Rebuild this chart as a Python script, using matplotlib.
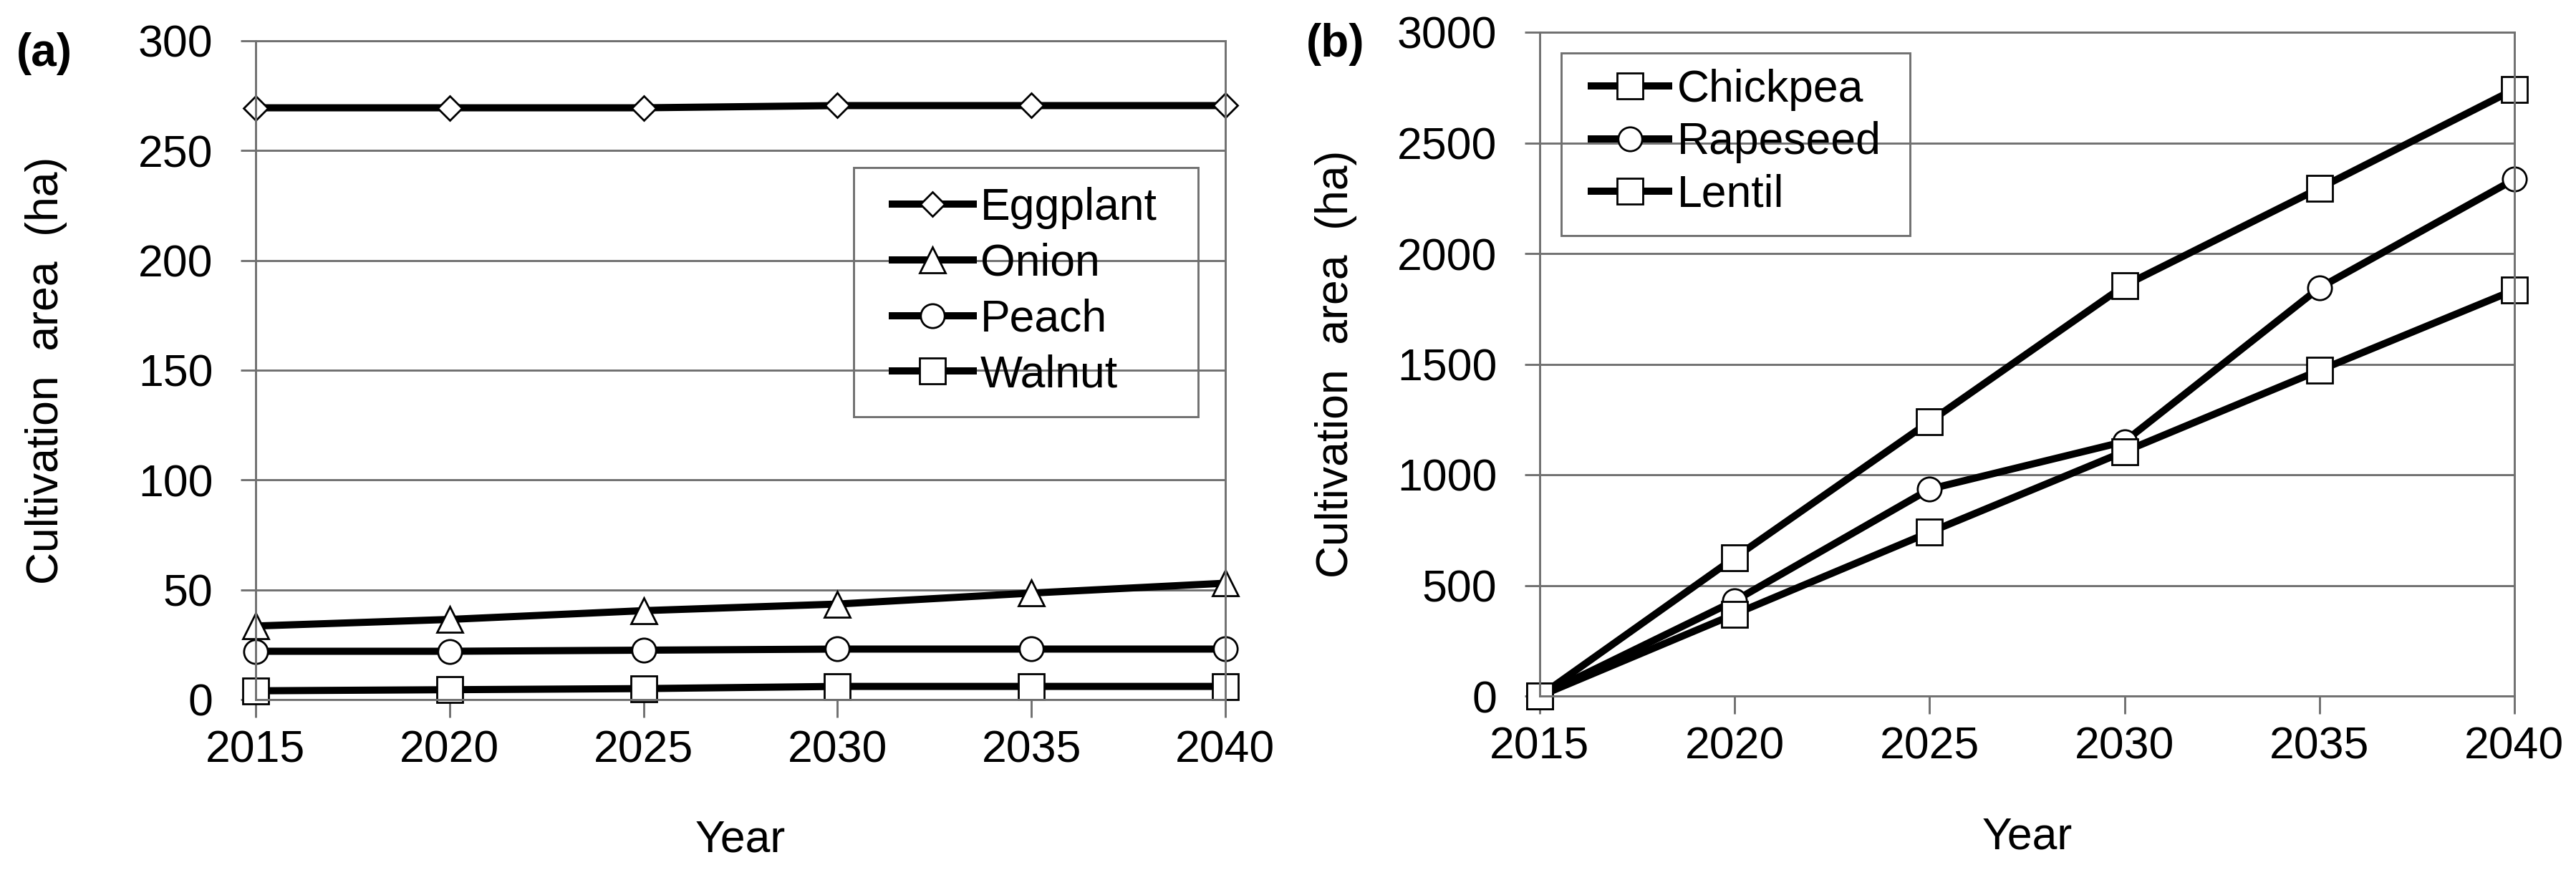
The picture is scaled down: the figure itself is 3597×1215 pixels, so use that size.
import matplotlib
matplotlib.use("Agg")
import matplotlib.pyplot as plt
from matplotlib.patches import Rectangle

plt.rcParams['font.family'] = ['Liberation Sans', 'DejaVu Sans']

years = [2015, 2020, 2025, 2030, 2035, 2040]

# panel (a)
eggplant = [269.5, 269.5, 269.5, 270.5, 270.5, 270.5]
onion = [33.5, 36.5, 40.5, 43.5, 48.5, 53.0]
peach = [22.0, 22.0, 22.5, 23.0, 23.0, 23.0]
walnut = [4.0, 4.5, 5.0, 6.0, 6.0, 6.0]

# panel (b)
chickpea = [0, 625, 1240, 1855, 2295, 2742]
rapeseed = [0, 430, 935, 1150, 1845, 2335]
lentil = [0, 370, 740, 1105, 1472, 1835]

W, H = 3597, 1215
DPI = 100
FS = 45
GRAY = '#707070'
GLW = 2.1

fig = plt.figure(figsize=(W / DPI, H / DPI), dpi=DPI)


def px(x0, y0, x1, y1):
    return [x0 / W, 1 - y1 / H, (x1 - x0) / W, (y1 - y0) / H]


def style(ax, ymax, ystep, ylab_x):
    ax.set_xlim(2015, 2040)
    ax.set_ylim(0, ymax)
    ax.set_xticks(years)
    ax.set_yticks(range(0, ymax + 1, ystep))
    ax.yaxis.grid(True, color=GRAY, lw=GLW)
    ax.set_axisbelow(True)
    for s in ax.spines.values():
        s.set_color(GRAY)
        s.set_linewidth(GLW)
    ax.tick_params(axis='both', colors=GRAY, labelcolor='black', labelsize=FS,
                   width=GLW, direction='out')
    ax.tick_params(axis='x', length=18, pad=12)
    ax.tick_params(axis='y', length=15, pad=28)
    ax.set_xlabel('Year', fontsize=FS)
    ax.xaxis.label.set_va('center')
    ax.xaxis.set_label_coords(0.5, -0.213)
    ax.set_ylabel('Cultivation  area  (ha)', fontsize=FS)
    ax.yaxis.label.set_va('center')
    ax.yaxis.set_label_coords(ylab_x, 0.5)


common = dict(color='black', lw=7.2, mfc='white', mec='black', mew=2.0, clip_on=False)

# (a)
axa = fig.add_axes(px(357, 57, 1711, 977))
la = []
la += axa.plot(years, eggplant, marker='D', ms=17.5, label='Eggplant', **common)
la += axa.plot(years, onion, marker='^', ms=25.5, label='Onion', **common)
la += axa.plot(years, peach, marker='o', ms=24, label='Peach', **common)
la += axa.plot(years, walnut, marker='s', ms=25.5, label='Walnut', **common)
style(axa, 300, 50, -0.2157)

fig.patches.append(Rectangle((1192 / W, 1 - 582 / H), (1673 - 1192) / W, (582 - 234) / H,
                             transform=fig.transFigure, fill=False, ec=GRAY, lw=GLW))
fig.legend(handles=la, loc='center left', bbox_to_anchor=(1246 / W, 1 - 407 / H),
           frameon=False, fontsize=FS, borderpad=0, borderaxespad=0,
           handlelength=1.8, handletextpad=0.16, labelspacing=0.3)

# (b)
axb = fig.add_axes(px(2150, 45, 3511, 972))
lb = []
lb += axb.plot(years, chickpea, marker='s', ms=25.5, label='Chickpea', **common)
lb += axb.plot(years, rapeseed, marker='o', ms=24, label='Rapeseed', **common)
lb += axb.plot(years, lentil, marker='s', ms=25.5, label='Lentil', **common)
style(axb, 3000, 500, -0.2087)

fig.patches.append(Rectangle((2180 / W, 1 - 329 / H), (2667 - 2180) / W, (329 - 74) / H,
                             transform=fig.transFigure, fill=False, ec=GRAY, lw=GLW))
fig.legend(handles=lb, loc='center left', bbox_to_anchor=(2222 / W, 1 - 199 / H),
           frameon=False, fontsize=FS, borderpad=0, borderaxespad=0,
           handlelength=1.72, handletextpad=0.2, labelspacing=0.23)

fig.text(62 / W, 1 - 75 / H, '(a)', fontsize=46, fontweight='bold', ha='center', va='center')
fig.text(1865 / W, 1 - 62 / H, '(b)', fontsize=46, fontweight='bold', ha='center', va='center')

fig.savefig('out.png', dpi=DPI, facecolor='white')
